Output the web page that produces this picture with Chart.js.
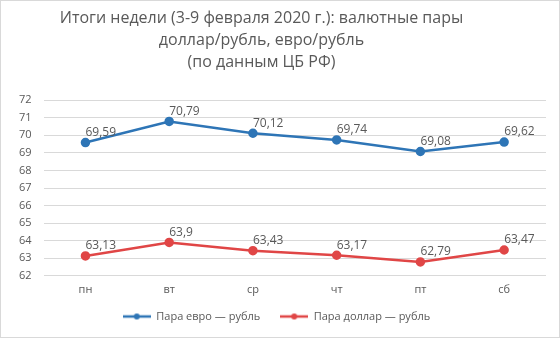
<!DOCTYPE html>
<html>
<head>
<meta charset="utf-8">
<script src="https://cdn.jsdelivr.net/npm/chart.js@4"></script>
<style>
    html, body { margin: 0; padding: 0; background: #fff; }
    .wrap { position: relative; width: 558px; height: 336px; border: 1px solid #d9d9d9; }
</style>
</head>
<body>
<div class="wrap"><canvas id="rate-chart"></canvas></div>
<script>
// Weekly currency rates (CBR), 3-9 Feb 2020
const days = ['пн', 'вт', 'ср', 'чт', 'пт', 'сб'];
const euroRub = [69.59, 70.79, 70.12, 69.74, 69.08, 69.62];
const dollarRub = [63.13, 63.9, 63.43, 63.17, 62.79, 63.47];
const yTicks = [62, 63, 64, 65, 66, 67, 68, 69, 70, 71, 72];

const textColor = '#595959';
const fontFamily = "'Open Sans', 'Noto Sans', sans-serif";
const euroColor = '#2e75b6';
const dollarColor = '#e04646';

// Legend marker: short line with a dot in the middle
function legendMarker(color) {
    const c = document.createElement('canvas');
    c.width = 28;
    c.height = 8;
    const g = c.getContext('2d');
    g.strokeStyle = color;
    g.lineWidth = 2.5;
    g.beginPath();
    g.moveTo(0, 4);
    g.lineTo(28, 4);
    g.stroke();
    g.fillStyle = color;
    g.beginPath();
    g.arc(14, 4, 3, 0, Math.PI * 2);
    g.fill();
    return c;
}

// Draw the value next to each point (comma decimal separator)
const valueLabels = {
    id: 'valueLabels',
    afterDatasetsDraw(chart) {
        const ctx = chart.ctx;
        ctx.save();
        ctx.font = '12px ' + fontFamily;
        ctx.fillStyle = textColor;
        ctx.textAlign = 'left';
        ctx.textBaseline = 'bottom';
        chart.data.datasets.forEach((ds, i) => {
            chart.getDatasetMeta(i).data.forEach((pt, j) => {
                const txt = String(ds.data[j]).replace('.', ',');
                ctx.fillText(txt, pt.x, pt.y - 4);
            });
        });
        ctx.restore();
    }
};

// Tweak layout: shorter legend box drawn a bit higher, title shifted left
function shiftDraw(chart, box, dx, dy) {
    const draw = box.draw;
    box.draw = function() {
        chart.ctx.save();
        chart.ctx.translate(dx, dy);
        draw.apply(this, arguments);
        chart.ctx.restore();
    };
}
const layoutTweaks = {
    id: 'layoutTweaks',
    beforeInit(chart) {
        const legend = chart.legend;
        const fit = legend.fit;
        legend.fit = function() {
            fit.apply(this, arguments);
            this.height = 34;
        };
        shiftDraw(chart, legend, 0, -12);
        shiftDraw(chart, chart.titleBlock, -15, 0);
    }
};

const ctx = document.getElementById('rate-chart').getContext('2d');
new Chart(ctx, {
    type: 'line',
    data: {
        labels: days,
        datasets: [
            {
                label: 'Пара евро — рубль',
                data: euroRub,
                borderColor: euroColor,
                backgroundColor: euroColor,
                borderWidth: 2.5,
                pointRadius: 3.5,
                tension: 0
            },
            {
                label: 'Пара доллар — рубль',
                data: dollarRub,
                borderColor: dollarColor,
                backgroundColor: dollarColor,
                borderWidth: 2.5,
                pointRadius: 3.5,
                tension: 0
            }
        ]
    },
    options: {
        responsive: true,
        maintainAspectRatio: false,
        animation: false,
        layout: { padding: { left: 6, right: 13, top: 0, bottom: 0 } },
        plugins: {
            title: {
                display: true,
                text: ['Итоги недели (3-9 февраля 2020 г.): валютные пары', 'доллар/рубль, евро/рубль', '(по данным ЦБ РФ)'],
                color: textColor,
                font: { family: fontFamily, size: 16, weight: 'normal', lineHeight: 1.38 },
                padding: { top: 6, bottom: 27 }
            },
            legend: {
                position: 'bottom',
                labels: {
                    usePointStyle: true,
                    pointStyleWidth: 28,
                    color: textColor,
                    font: { family: fontFamily, size: 11 },
                    padding: 20,
                    generateLabels: chart => chart.data.datasets.map((ds, i) => ({
                        text: ds.label,
                        fontColor: textColor,
                        pointStyle: legendMarker(ds.borderColor),
                        datasetIndex: i,
                        hidden: false,
                        lineWidth: 0
                    }))
                }
            },
            tooltip: { enabled: false }
        },
        scales: {
            x: {
                offset: true,
                grid: { display: false, drawTicks: false },
                border: { display: false },
                ticks: { color: textColor, font: { family: fontFamily, size: 11 }, padding: 7 }
            },
            y: {
                min: yTicks[0],
                max: yTicks[yTicks.length - 1],
                afterBuildTicks: axis => { axis.ticks = yTicks.map(v => ({ value: v })); },
                grid: { color: '#d9d9d9', drawTicks: false },
                border: { display: false },
                ticks: { color: textColor, font: { family: fontFamily, size: 11 }, padding: 12, autoSkip: false }
            }
        }
    },
    plugins: [valueLabels, layoutTweaks]
});
</script>
</body>
</html>
